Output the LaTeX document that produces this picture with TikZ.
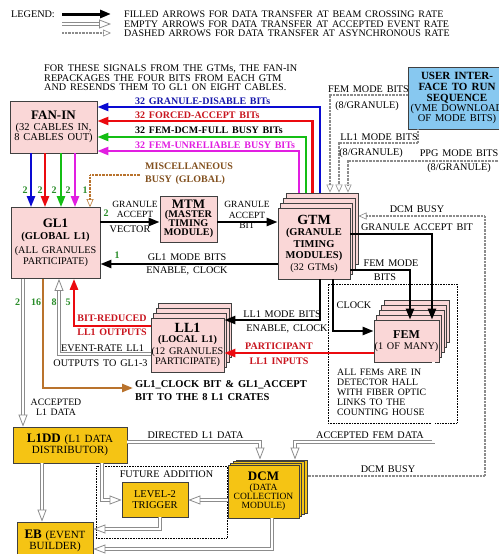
\documentclass[tikz, border = 0pt]{standalone}
\usepackage{fontspec}
\setmainfont[WordSpace = 1.5]{Liberation Serif}
\usetikzlibrary{arrows.meta}

\definecolor{boxpink}{RGB}{250, 215, 215}
\definecolor{boxgold}{RGB}{245, 196, 20}
\definecolor{boxblue}{RGB}{135, 200, 240}
\definecolor{numgreen}{RGB}{40, 140, 40}
\definecolor{sigblue}{RGB}{10, 10, 210}
\definecolor{sigbluetext}{RGB}{20, 20, 170}
\definecolor{sigred}{RGB}{235, 10, 15}
\definecolor{sigredtext}{RGB}{200, 20, 30}
\definecolor{siggreen}{RGB}{20, 190, 20}
\definecolor{sigmagenta}{RGB}{225, 30, 225}
\definecolor{sigbrown}{RGB}{185, 115, 45}
\definecolor{textbrown}{RGB}{130, 80, 30}
\definecolor{linegray}{RGB}{140, 140, 140}

\begin{document}
\begin{tikzpicture}[x = 1pt, y = -1pt, font = \fontsize{10.2}{10.5}\selectfont,
	box/.style = {draw = black!75, line width = 0.8pt, inner sep = 0pt, align = center},
	pinkbox/.style = {box, fill = boxpink},
	goldbox/.style = {box, fill = boxgold},
	fillarrow/.style = {line width = 2.4pt, -{Triangle[length = 11pt, width = 8pt]}},
	sigline/.style = {fillarrow, line width = 2.2pt},
	emptyarrow/.style = {draw = linegray, double = white, double distance = 2.2pt, line width = 0.8pt, -{Triangle[open, length = 12pt, width = 9pt]}},
	dasharrow/.style = {draw = linegray, line width = 1.4pt, dash pattern = on 0.7pt off 0.7pt, -{Triangle[open, length = 8pt, width = 7pt, line width = 0.6pt]}},
	num/.style = {inner sep = 0pt, text = numgreen, font = \fontsize{10}{10}\selectfont\bfseries},
	lbl/.style = {inner sep = 0pt},
	]

	\useasboundingbox (0, 0) rectangle (498, 554);

	% Legend

	\node [lbl, anchor = west] (legend) at (11, 14) {LEGEND:};

	\coordinate (lfa) at (62, 14);	\coordinate (lfb) at (111, 14);
	\coordinate (lea) at (62, 24);	\coordinate (leb) at (111, 24);
	\coordinate (lda) at (62, 33);	\coordinate (ldb) at (111, 33);

	\draw [fillarrow, line width = 3pt] (lfa) -- (lfb);
	\draw [emptyarrow] (lea) -- (leb);
	\draw [dasharrow] (lda) -- (ldb);

	\begin{scope}[font = \fontsize{10}{10}\selectfont]
		\node [lbl, anchor = west] (legfill) at (124, 14) {FILLED ARROWS FOR DATA TRANSFER AT BEAM CROSSING RATE};
		\node [lbl, anchor = west] (legempty) at (124, 24) {EMPTY ARROWS FOR DATA TRANSFER AT ACCEPTED EVENT RATE};
		\node [lbl, anchor = west] (legdash) at (124, 33) {DASHED ARROWS FOR DATA TRANSFER AT ASYNCHRONOUS RATE};
	\end{scope}

	% Note on the fan-in

	\node [lbl, anchor = north west, align = left, font = \fontsize{10.2}{9.4}\selectfont] (note) at (44, 65)
		{FOR THESE SIGNALS FROM THE GTMs, THE FAN-IN\\REPACKAGES THE FOUR BITS FROM EACH GTM\\AND RESENDS THEM TO GL1 ON EIGHT CABLES.};

	% Boxes

	\node [pinkbox, minimum width = 87pt, minimum height = 52pt] (fanin) at (53.5, 127)
		{{\fontsize{13}{13}\selectfont\bfseries FAN-IN}\\[0pt]
		 {\fontsize{10.5}{10}\selectfont (32 CABLES IN,}\\[0pt]
		 {\fontsize{10.5}{10}\selectfont 8 CABLES OUT)}};

	\node [pinkbox, minimum width = 89pt, minimum height = 71pt] (gl1) at (55.5, 243)
		{{\fontsize{13}{13}\selectfont\bfseries GL1}\\[1pt]
		 {\fontsize{10.5}{10.5}\selectfont\bfseries (GLOBAL L1)}\\[4pt]
		 (ALL GRANULES\\ PARTICIPATE)};

	\node [pinkbox, minimum width = 57pt, minimum height = 46pt] (mtm) at (188.5, 219)
		{{\fontsize{13}{13}\selectfont\bfseries MTM}\\[-1pt]
		 \textbf{(MASTER}\\[-1.5pt] \textbf{TIMING}\\[-1.5pt] \textbf{MODULE)}};

	\foreach \i in {3, 2, 1}
		\node [pinkbox, minimum width = 72pt, minimum height = 71pt, xshift = {2.7pt*\i}, yshift = {5pt*\i}] (gtm\i) at (314, 243.5) {};
	\node [pinkbox, minimum width = 72pt, minimum height = 71pt] (gtm) at (314, 243.5)
		{{\fontsize{14}{14}\selectfont\bfseries GTM}\\[1pt]
		 {\fontsize{10.5}{10.5}\selectfont\bfseries (GRANULE}\\[1pt]
		 {\fontsize{10.5}{10.5}\selectfont\bfseries TIMING}\\[1pt]
		 {\fontsize{10.5}{10.5}\selectfont\bfseries MODULES)}\\[1pt]
		 (32 GTMs)};

	\node [box, fill = boxblue, minimum width = 98pt, minimum height = 62pt, font = \fontsize{10.5}{10}\selectfont] (ui) at (457, 98)
		{{\fontsize{11}{11}\selectfont\bfseries USER INTER-}\\[1pt]
		 {\fontsize{11}{11}\selectfont\bfseries FACE TO RUN}\\[1pt]
		 {\fontsize{11}{11}\selectfont\bfseries SEQUENCE}\\[0pt]
		 (VME DOWNLOAD\\[0pt]
		 OF MODE BITS)};

	\foreach \i in {3, 2, 1}
		\node [pinkbox, minimum width = 73pt, minimum height = 54pt, xshift = {2.5pt*\i}, yshift = {5pt*\i}] (ll1\i) at (187.5, 345) {};
	\node [pinkbox, minimum width = 73pt, minimum height = 54pt] (ll1) at (187.5, 345)
		{{\fontsize{14}{14}\selectfont\bfseries LL1}\\[0pt]
		 \textbf{(LOCAL L1)}\\[1pt]
		 (12 GRANULES\\ PARTICIPATE)};

	\node [draw, densely dotted, line width = 0.6pt, minimum width = 129pt, minimum height = 139pt] (hall) at (392.5, 353.5) {};

	\foreach \i in {4, 3, 2, 1}
		\node [pinkbox, minimum width = 65pt, minimum height = 42pt, xshift = {2.5pt*\i}, yshift = {5pt*\i}] (fem\i) at (406.5, 341) {};
	\node [pinkbox, minimum width = 65pt, minimum height = 42pt] (fem) at (406.5, 341)
		{{\fontsize{12}{12}\selectfont\bfseries FEM}\\[1pt] (1 OF MANY)};

	\node [lbl, anchor = north west, align = left, font = \fontsize{9.8}{10}\selectfont] (hallnote) at (337, 369)
		{ALL FEMs ARE IN\\ DETECTOR HALL\\ WITH FIBER OPTIC\\ LINKS TO THE\\ COUNTING HOUSE};

	\node [goldbox, minimum width = 114pt, minimum height = 36pt] (l1dd) at (70, 445)
		{{\fontsize{13}{13}\selectfont\bfseries L1DD} {\fontsize{11}{11}\selectfont (L1 DATA}\\[0pt]
		 {\fontsize{11}{11}\selectfont DISTRIBUTOR)}};

	\node [draw, densely dotted, line width = 0.6pt, minimum width = 131pt, minimum height = 72pt] (fut) at (161.5, 502) {};
	\node [lbl] (futlbl) at (166.5, 474) {FUTURE ADDITION};

	\node [goldbox, minimum width = 66pt, minimum height = 35pt] (lvl2) at (155, 499.5)
		{{\fontsize{10.5}{10.5}\selectfont LEVEL-2}\\[0pt] {\fontsize{10.5}{10.5}\selectfont TRIGGER}};

	\foreach \i in {3, 2, 1}
		\node [goldbox, minimum width = 71pt, minimum height = 53pt, xshift = {2.7pt*\i}, yshift = {1.7pt*\i}] (dcm\i) at (263.5, 491.5) {};
	\node [goldbox, minimum width = 71pt, minimum height = 53pt, font = \fontsize{9.5}{9.3}\selectfont] (dcm) at (263.5, 491.5)
		{{\fontsize{13}{13}\selectfont\bfseries DCM}\\
		 (DATA\\ COLLECTION\\ MODULE)};

	\node [goldbox, minimum width = 76pt, minimum height = 38pt] (eb) at (55, 541)
		{{\fontsize{13}{13}\selectfont\bfseries EB} {\fontsize{11}{11}\selectfont (EVENT}\\[1pt]
		 {\fontsize{11}{11}\selectfont BUILDER)}};

	% GTM signals to the fan-in

	\draw [sigline, color = sigblue] (gtm3.north -| 320, 0) |- (fanin.east |- 0, 107);
	\draw [sigline, color = sigred] (gtm3.north -| 312.5, 0) |- (fanin.east |- 0, 121);
	\draw [sigline, color = siggreen] (gtm3.north -| 306, 0) |- (fanin.east |- 0, 137);
	\draw [sigline, color = sigmagenta] (gtm3.north -| 299, 0) |- (fanin.east |- 0, 151);

	\begin{scope}[font = \fontsize{10}{10}\selectfont\bfseries]
		\node [lbl, anchor = west, text = sigbluetext] (gdlbl) at (135, 101) {32 GRANULE-DISABLE BITs};
		\node [lbl, anchor = west, text = sigredtext] (falbl) at (135, 115.5) {32 FORCED-ACCEPT BITs};
		\node [lbl, anchor = west] (fflbl) at (135, 130.5) {32 FEM-DCM-FULL BUSY BITs};
		\node [lbl, anchor = west, text = sigmagenta] (fulbl) at (135, 145.5) {32 FEM-UNRELIABLE BUSY BITs};
	\end{scope}

	% Fan-in to GL1

	\draw [sigline, color = sigblue] (fanin.south -| 31, 0) -- (gl1.north -| 31, 0);
	\draw [sigline, color = sigred] (fanin.south -| 45, 0) -- (gl1.north -| 45, 0);
	\draw [sigline, color = siggreen] (fanin.south -| 61, 0) -- (gl1.north -| 61, 0);
	\draw [sigline, color = sigmagenta] (fanin.south -| 75, 0) -- (gl1.north -| 75, 0);

	\foreach \x/\n in {25/2, 40/2, 54/2, 68/2, 85/1}
		\node [num] (topnum\x) at (\x, 190) {\n};

	\coordinate (misc) at (140, 175);
	\draw [dasharrow, draw = sigbrown] (misc) -| (gl1.north -| 90, 0);
	\node [lbl, anchor = west, align = left, text = textbrown, font = \fontsize{10}{13}\selectfont\bfseries] (misclbl) at (145, 173.5)
		{MISCELLANEOUS\\ BUSY (GLOBAL)};

	% GL1, MTM and GTM

	\draw [fillarrow] (gl1.east |- 0, 222) -- (mtm.west |- 0, 222);
	\draw [fillarrow] (mtm.east |- 0, 222) -- (gtm.west |- 0, 222);
	\draw [fillarrow] (gtm.west |- 0, 264) -- (gl1.east |- 0, 264);

	\node [num] (n2vec) at (106, 213) {2};
	\node [lbl, align = center, font = \fontsize{9.5}{9.5}\selectfont] (vecup) at (135, 209.5) {GRANULE\\ ACCEPT};
	\node [lbl] (veclo) at (130, 229) {VECTOR};
	\node [lbl, align = center, font = \fontsize{9.5}{10.3}\selectfont] (gabit) at (247, 215) {GRANULE\\ ACCEPT\\ BIT};

	\node [num] (n1mode) at (117, 255) {1};
	\node [lbl] (gl1mode) at (187, 257) {GL1 MODE BITS};
	\node [lbl] (gl1clk) at (187, 270.5) {ENABLE, CLOCK};

	% Mode bits from the user interface

	\draw [dasharrow] (ui.west |- 0, 95) -| (gtm3.north -| 330, 0);
	\draw [dasharrow] (ui.south -| 418, 0) |- (339, 143) -- (gtm3.north -| 339, 0);
	\coordinate (ppg) at (505, 161);
	\draw [dasharrow] (ppg) -| (gtm3.north -| 348, 0);

	\node [lbl] (femmode) at (368.5, 89.5) {FEM MODE BITS};
	\node [lbl] (femgran) at (367, 106) {(8/GRANULE)};
	\node [lbl] (ll1mode) at (379, 137) {LL1 MODE BITS};
	\node [lbl] (ll1gran) at (371, 153) {(8/GRANULE)};
	\node [lbl] (ppgmode) at (459, 153) {PPG MODE BITS};
	\node [lbl] (ppggran) at (459, 168) {(8/GRANULE)};

	% GTM to FEM and LL1

	\draw [dasharrow] (dcm3.east |- 0, 476) -| (485, 216) -- (gtm3.east |- 0, 216);
	\node [lbl] (busyup) at (417, 209) {DCM BUSY};
	\node [lbl] (busyl) at (388, 469) {DCM BUSY};

	\draw [fillarrow] (gtm.east |- 0, 234) -| (fem.north -| 432, 0);
	\node [lbl] (gablbl) at (417, 227) {GRANULE ACCEPT BIT};

	\draw [fillarrow] (gtm.east |- 0, 270) -| (fem.north -| 410, 0);
	\node [lbl] (fmup) at (391, 263.5) {FEM MODE};
	\node [lbl] (fmlo) at (385, 277.5) {BITS};

	\draw [fillarrow] (gtm.south -| 320, 0) |- (ll1.east |- 0, 320);
	\node [lbl] (llmode) at (282, 314) {LL1 MODE BITS};
	\node [lbl] (llclk) at (287, 328.5) {ENABLE, CLOCK};

	\draw [fillarrow] (gtm.south -| 333, 0) |- (fem.west |- 0, 331);
	\node [lbl] (clklbl) at (354, 305) {CLOCK};

	\draw [fillarrow, color = sigred] (fem.west |- 0, 353) -- (ll1.east |- 0, 353);
	\begin{scope}[font = \fontsize{10}{10}\selectfont\bfseries, text = sigredtext]
		\node [lbl] (partlbl) at (279, 346.5) {PARTICIPANT};
		\node [lbl] (inplbl) at (279, 361) {LL1 INPUTS};
		\node [lbl] (brlbl) at (112, 318) {BIT-REDUCED};
		\node [lbl] (outlbl) at (112, 332.5) {LL1 OUTPUTS};
	\end{scope}

	% LL1 back to GL1, GL1 outputs

	\draw [fillarrow, color = sigred] (ll1.west |- 0, 326) -| (gl1.south -| 74, 0);
	\draw [emptyarrow] (ll1.west |- 0, 354) -| (gl1.south -| 59, 0);
	\node [lbl] (erlbl) at (102.5, 348.5) {EVENT-RATE LL1};
	\node [lbl] (ertlbl) at (100.5, 363) {OUTPUTS TO GL1-3};

	\coordinate (crates) at (133, 388);
	\draw [fillarrow, color = sigbrown] (gl1.south -| 43, 0) |- (crates);
	\node [lbl, anchor = west, align = left, font = \fontsize{10.5}{13}\selectfont\bfseries] (crlbl) at (135, 390.5)
		{GL1\_CLOCK BIT \& GL1\_ACCEPT\\ BIT TO THE 8 L1 CRATES};

	\draw [emptyarrow] (gl1.south -| 23, 0) -- (l1dd.north -| 23, 0);
	\node [lbl, align = center, font = \fontsize{9.8}{10.5}\selectfont] (acclbl) at (56, 407.5) {ACCEPTED\\ L1 DATA};

	\foreach \x/\n in {17.5/2, 36/16, 54/8, 68/5}
		\node [num] (botnum\n) at (\x, 302.5) {\n};

	% Data path to the DCM and event builder

	\draw [emptyarrow] (l1dd.east |- 0, 442) -| (dcm3.north -| 260, 0);
	\node [lbl] (dirlbl) at (195.5, 435) {DIRECTED L1 DATA};

	\draw [emptyarrow] (fem.south -| 433.5, 0) |- (295, 442) -- (dcm3.north -| 295, 0);
	\node [lbl] (afdlbl) at (370, 435) {ACCEPTED FEM DATA};

	\draw [emptyarrow] (l1dd.south -| 42, 0) -- (eb.north -| 42, 0);
	\draw [emptyarrow] (l1dd.south -| 102, 0) |- (lvl2.west |- 0, 500);
	\draw [emptyarrow] (dcm.west |- 0, 500) -- (lvl2.east |- 0, 500);
	\draw [emptyarrow] (lvl2.south -| 160, 0) |- (eb.east |- 0, 529);
	\draw [emptyarrow] (dcm.south -| 272, 0) |- (eb.east |- 0, 549);

\end{tikzpicture}
\end{document}
